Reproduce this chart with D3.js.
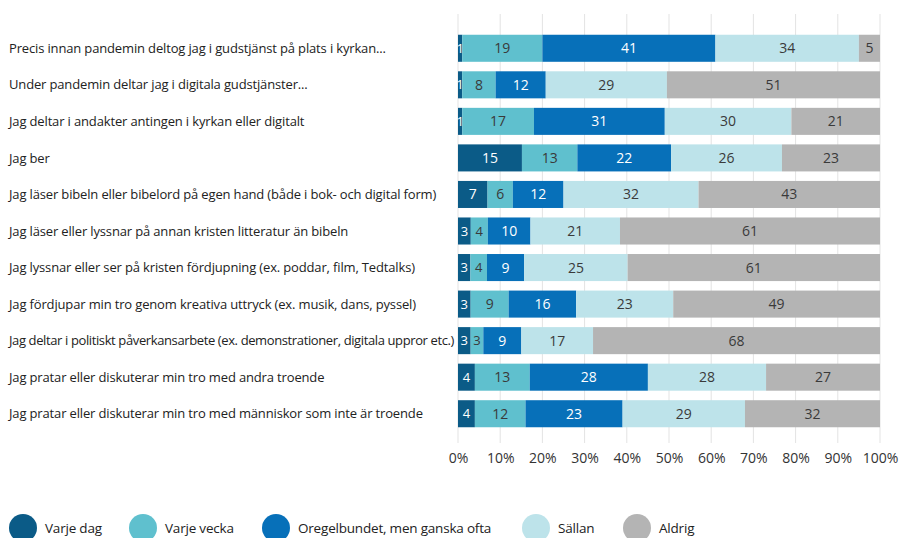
<!DOCTYPE html>
<html>
<head>
<meta charset="utf-8">
<script src="https://cdn.jsdelivr.net/npm/d3@7"></script>
<style>
  html, body { margin: 0; padding: 0; background: #fff; }
  svg text { font-family: "Open Sans", "Noto Sans", sans-serif; }
</style>
</head>
<body>
<svg id="chart" width="902" height="538"></svg>
<script>
// Survey statements (one bar each)
const categories = [
  "Precis innan pandemin deltog jag i gudstjänst på plats i kyrkan...",
  "Under pandemin deltar jag i digitala gudstjänster...",
  "Jag deltar i andakter antingen i kyrkan eller digitalt",
  "Jag ber",
  "Jag läser bibeln eller bibelord på egen hand (både i bok- och digital form)",
  "Jag läser eller lyssnar på annan kristen litteratur än bibeln",
  "Jag lyssnar eller ser på kristen fördjupning (ex. poddar, film, Tedtalks)",
  "Jag fördjupar min tro genom kreativa uttryck (ex. musik, dans, pyssel)",
  "Jag deltar i politiskt påverkansarbete (ex. demonstrationer, digitala uppror etc.)",
  "Jag pratar eller diskuterar min tro med andra troende",
  "Jag pratar eller diskuterar min tro med människor som inte är troende"
];

// Answer frequencies (legend order)
const seriesNames = ["Varje dag", "Varje vecka", "Oregelbundet, men ganska ofta", "Sällan", "Aldrig"];

// Percentages per series, in category order
const varjeDag     = [1, 1, 1, 15, 7, 3, 3, 3, 3, 4, 4];
const varjeVecka   = [19, 8, 17, 13, 6, 4, 4, 9, 3, 13, 12];
const oregelbundet = [41, 12, 31, 22, 12, 10, 9, 16, 9, 28, 23];
const sallan       = [34, 29, 30, 26, 32, 21, 25, 23, 17, 28, 29];
const aldrig       = [5, 51, 21, 23, 43, 61, 61, 49, 68, 27, 32];

const tickLabels = ["0%", "10%", "20%", "30%", "40%", "50%", "60%", "70%", "80%", "90%", "100%"];

const colors = ["#0b5b87", "#5fc0ce", "#0770b9", "#bde3ea", "#b4b4b4"];
const labelColors = ["#ffffff", "#3a3a3a", "#ffffff", "#3a3a3a", "#3a3a3a"];

const seriesValues = [varjeDag, varjeVecka, oregelbundet, sallan, aldrig];

// Build rows; each bar is shown as share of its own total (100% stacked)
const rows = categories.map((c, i) => {
  const r = { category: c };
  let total = 0;
  seriesNames.forEach((s, k) => { r[s] = seriesValues[k][i]; total += seriesValues[k][i]; });
  r.total = total;
  return r;
});

const stack = d3.stack().keys(seriesNames)
  .value((d, key) => d[key] / d.total);
const stacked = stack(rows);

const svg = d3.select("#chart");
const plotLeft = 458, plotRight = 880, plotTop = 30, plotBottom = 432;

const x = d3.scaleLinear().domain([0, 1]).range([plotLeft, plotRight]);
const y = d3.scaleBand().domain(categories).range([plotTop, plotBottom]).paddingInner(0.26).paddingOuter(0.13);

// Vertical gridlines
svg.append("g").selectAll("line")
  .data(d3.range(0, 11).map(v => v / 10))
  .join("line")
  .attr("x1", d => x(d)).attr("x2", d => x(d))
  .attr("y1", 14).attr("y2", 443)
  .attr("stroke", "#e3e3e3").attr("stroke-width", 1);

// Bottom axis (labels only)
const axis = d3.axisBottom(x)
  .tickValues(d3.range(0, 11).map(v => v / 10))
  .tickFormat((d, i) => tickLabels[i])
  .tickSize(0).tickPadding(0);
const ax = svg.append("g").attr("transform", "translate(0,453)").call(axis);
ax.select(".domain").remove();
ax.selectAll("text")
  .attr("font-family", "'Open Sans', sans-serif")
  .attr("font-size", 14).attr("fill", "#333").attr("dy", "0.71em");

// Stacked bars
const layer = svg.append("g").selectAll("g")
  .data(stacked).join("g")
  .attr("fill", (d, i) => colors[i]);

layer.selectAll("rect")
  .data(d => d)
  .join("rect")
  .attr("x", d => x(d[0]))
  .attr("y", d => y(d.data.category))
  .attr("width", d => x(d[1]) - x(d[0]))
  .attr("height", y.bandwidth());

// Category labels; long ones get tighter letter spacing so they end before the plot
const labelX = 9, labelMax = plotLeft - 4 - labelX, baseSpacing = -0.15;
svg.append("g").selectAll("text")
  .data(categories).join("text")
  .attr("x", labelX)
  .attr("y", d => y(d) + y.bandwidth() / 2)
  .attr("dy", "0.36em")
  .attr("font-size", 13)
  .attr("letter-spacing", baseSpacing + "px")
  .attr("fill", "#222")
  .text(d => d)
  .each(function (d) {
    const len = this.getComputedTextLength();
    if (len > labelMax) {
      const extra = (len - labelMax) / d.length;
      d3.select(this).attr("letter-spacing", (baseSpacing - extra) + "px");
    }
  });

// Value labels centred in segments (narrow segments get a slightly smaller digit)
stacked.forEach((s, k) => {
  svg.append("g").selectAll("text")
    .data(s).join("text")
    .attr("x", d => (x(d[0]) + x(d[1])) / 2)
    .attr("y", d => y(d.data.category) + y.bandwidth() / 2)
    .attr("dy", "0.36em")
    .attr("text-anchor", "middle")
    .attr("font-size", d => d.data[s.key] < 5 ? 13 : 14)
    .attr("fill", labelColors[k])
    .text(d => d.data[s.key]);
});

// Legend
const legendX = [23, 143, 276, 536, 637];
const lg = svg.append("g").selectAll("g")
  .data(seriesNames).join("g")
  .attr("transform", (d, i) => `translate(${legendX[i]},528)`);
lg.append("circle").attr("r", 14).attr("fill", (d, i) => colors[i]);
lg.append("text")
  .attr("x", 22).attr("dy", "0.36em")
  .attr("font-size", 13.5).attr("letter-spacing", "-0.2px").attr("fill", "#222")
  .text(d => d);
</script>
</body>
</html>
